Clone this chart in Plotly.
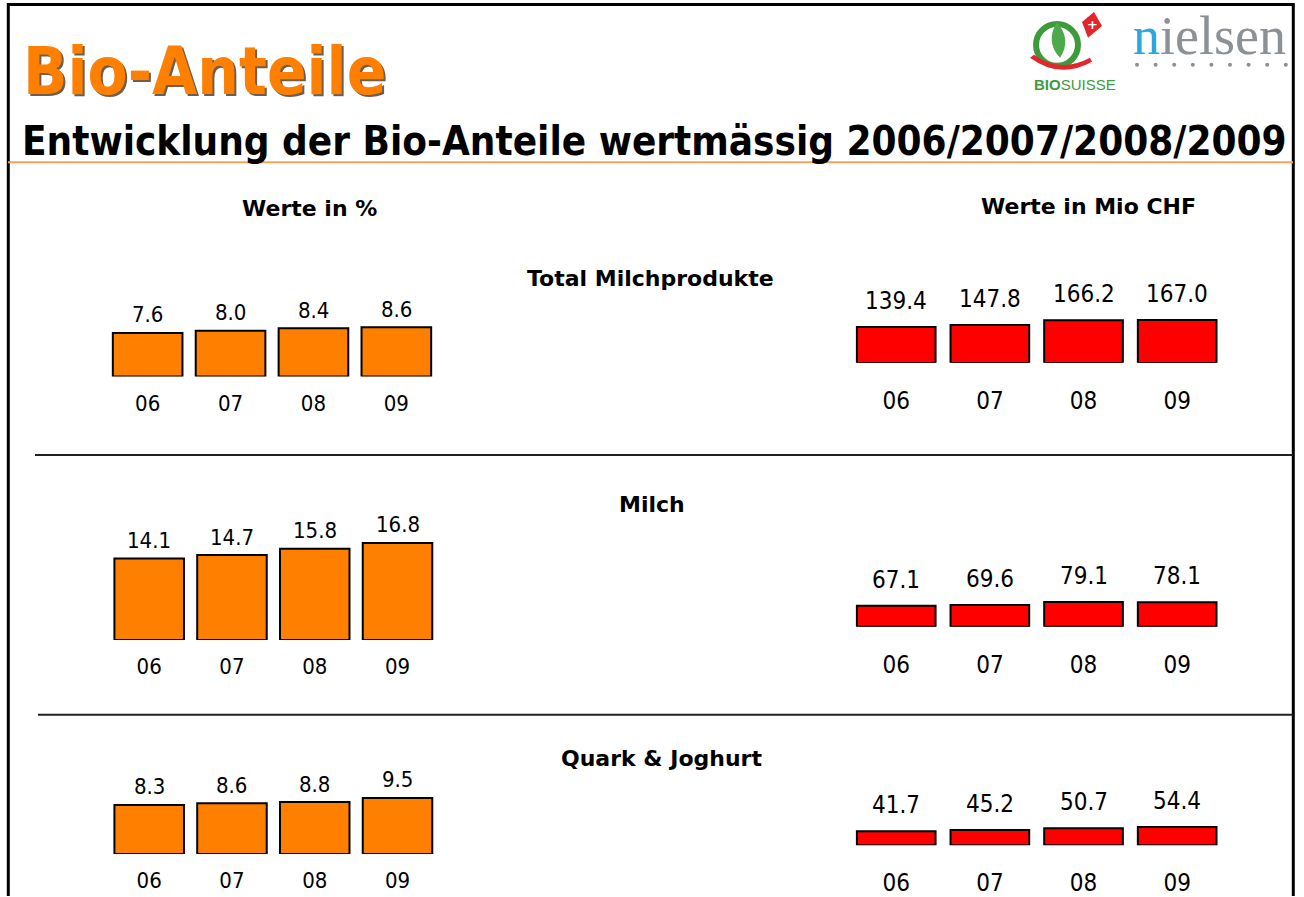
import plotly.graph_objects as go

W, H = 1304, 897

# ---------------- data ----------------
years = ["06", "07", "08", "09"]
pct_total = [7.6, 8.0, 8.4, 8.6]
pct_milch = [14.1, 14.7, 15.8, 16.8]
pct_quark = [8.3, 8.6, 8.8, 9.5]
chf_total = [139.4, 147.8, 166.2, 167.0]
chf_milch = [67.1, 69.6, 79.1, 78.1]
chf_quark = [41.7, 45.2, 50.7, 54.4]
section_titles = ["Total Milchprodukte", "Milch", "Quark & Joghurt"]
column_titles = ["Werte in %", "Werte in Mio CHF"]
main_title = "Bio-Anteile"
sub_title = "Entwicklung der Bio-Anteile wertmässig 2006/2007/2008/2009"

ORANGE = "#FF8000"
RED = "#FF0000"
NUM_FONT = "DejaVu Sans Condensed, DejaVu Sans, sans-serif"
BOLD_FONT = "DejaVu Sans, Verdana, sans-serif"


def px(x):
    return x / W


def py(y):
    return 1 - y / H


# panel layout: values, colour, x0, x1 (px), base (px), px per unit, side
panels = [
    (pct_total, ORANGE, 106.2, 437.8, 378.3, 5.77, "L"),
    (pct_milch, ORANGE, 107.8, 438.9, 642.8, 5.80, "L"),
    (pct_quark, ORANGE, 107.8, 438.9, 857.8, 5.93, "L"),
    (chf_total, RED, 849.4, 1224.0, 364.5, 0.258, "R"),
    (chf_milch, RED, 849.4, 1224.0, 629.5, 0.313, "R"),
    (chf_quark, RED, 849.4, 1224.0, 849.0, 0.336, "R"),
]

fig = go.Figure()
annotations = []
layout_axes = {}
DOM_H = 110.0

for i, (vals, col, x0, x1, base, scale, side) in enumerate(panels):
    n = i + 1
    xa = "x" if n == 1 else f"x{n}"
    ya = "y" if n == 1 else f"y{n}"
    fig.add_trace(go.Bar(
        x=years, y=vals, xaxis=xa, yaxis=ya,
        marker=dict(color=col, line=dict(color="#000000", width=2)),
        width=0.84, showlegend=False, hoverinfo="skip",
    ))
    rng = DOM_H / scale
    big = side == "R"
    layout_axes["xaxis" if n == 1 else f"xaxis{n}"] = dict(
        domain=[px(x0), px(x1)], anchor=ya, type="category",
        categoryorder="array", categoryarray=years,
        range=[-0.5, 3.5], showgrid=False, zeroline=False, showline=False,
        ticks="", tickfont=dict(family=NUM_FONT, size=24 if big else 22, color="#000"),
        ticklabelstandoff=21 if big else 11, fixedrange=True,
    )
    layout_axes["yaxis" if n == 1 else f"yaxis{n}"] = dict(
        domain=[py(base), py(base - DOM_H)], anchor=xa, range=[0, rng],
        visible=False, fixedrange=True,
    )
    for k, v in enumerate(vals):
        annotations.append(dict(
            x=k, y=v, xref=xa, yref=ya, text=f"{v:.1f}", showarrow=False,
            xanchor="center", yanchor="middle", yshift=26 if big else 18,
            font=dict(family=NUM_FONT, size=24 if big else 22, color="#000"),
        ))

# titles
TITLE_FONT = "DejaVu Sans Condensed, DejaVu Sans"
annotations.append(dict(x=px(23), y=py(74), xref="paper", yref="paper", xanchor="left",
                        yanchor="middle", text=f"<b>{main_title}</b>", showarrow=False,
                        font=dict(family=TITLE_FONT, size=65, color="rgba(60,40,20,0.75)")))
annotations.append(dict(x=px(21), y=py(72), xref="paper", yref="paper", xanchor="left",
                        yanchor="middle", text=f"<b>{main_title}</b>", showarrow=False,
                        font=dict(family=TITLE_FONT, size=65, color=ORANGE)))
annotations.append(dict(x=px(20), y=py(142), xref="paper", yref="paper", xanchor="left",
                        yanchor="middle", text=f"<b>{sub_title}</b>", showarrow=False,
                        font=dict(family=TITLE_FONT, size=40, color="#000")))

# column / section headers
for txt, (cx, cy) in zip(column_titles, [(309, 209), (1088, 207)]):
    annotations.append(dict(x=px(cx), y=py(cy), xref="paper", yref="paper", text=f"<b>{txt}</b>",
                            xanchor="center", yanchor="middle",
                            showarrow=False, font=dict(family=BOLD_FONT, size=22, color="#000")))
for txt, (cx, cy) in zip(section_titles, [(650, 280), (652, 507), (662, 762)]):
    annotations.append(dict(x=px(cx), y=py(cy), xref="paper", yref="paper", text=f"<b>{txt}</b>",
                            xanchor="center", yanchor="middle",
                            showarrow=False, font=dict(family=BOLD_FONT, size=22, color="#000")))

# logos (text parts)
annotations.append(dict(x=px(1131), y=py(36), xref="paper", yref="paper", xanchor="left",
                        yanchor="middle", showarrow=False,
                        text="<span style='color:#2AA7DF'>n</span>ielsen",
                        font=dict(family="Liberation Serif, serif", size=54, color="#8C9196")))
annotations.append(dict(x=px(1075), y=py(85), xref="paper", yref="paper", showarrow=False,
                        xanchor="center", yanchor="middle",
                        text="<b>BIO</b>SUISSE",
                        font=dict(family="Liberation Sans, Arial", size=15, color="#3E9B3C")))

shapes = []
# frame
for (xa0, ya0, xa1, ya1) in [(8, 4.5, 1293.5, 4.5), (8.3, 3, 8.3, 900), (1293.3, 3, 1293.3, 900)]:
    shapes.append(dict(type="line", xref="paper", yref="paper", x0=px(xa0), y0=py(ya0),
                       x1=px(xa1), y1=py(ya1), line=dict(color="#000", width=3)))
# orange rule under subtitle
shapes.append(dict(type="line", xref="paper", yref="paper", x0=px(8), y0=py(163), x1=px(1293),
                   y1=py(163), line=dict(color="#F8A060", width=2)))
# separators
for (sx, sy) in [(35, 457), (38, 718)]:
    shapes.append(dict(type="line", xref="paper", yref="paper", x0=px(sx), y0=py(sy), x1=px(1293),
                       y1=py(sy), line=dict(color="#202020", width=2)))
# nielsen dots
for k in range(9):
    cx = 1137 + k * 18.6
    shapes.append(dict(type="circle", xref="paper", yref="paper", x0=px(cx - 2), x1=px(cx + 2),
                       y0=py(67), y1=py(63), fillcolor="#8C9196", line=dict(width=0)))
# bio suisse emblem
shapes.append(dict(type="circle", xref="paper", yref="paper", x0=px(1036), x1=px(1078),
                   y0=py(66), y1=py(24), line=dict(color="#3E9B3C", width=6)))
shapes.append(dict(type="path", xref="paper", yref="paper",
                   path=f"M {px(1057)},{py(22)} Q {px(1072)},{py(40)} {px(1060)},{py(58)} "
                        f"Q {px(1045)},{py(42)} {px(1057)},{py(22)} Z",
                   fillcolor="#4DAA4A", line=dict(width=0)))
shapes.append(dict(type="path", xref="paper", yref="paper",
                   path=f"M {px(1030)},{py(58)} Q {px(1060)},{py(80)} {px(1092)},{py(62)} "
                        f"L {px(1090)},{py(58)} Q {px(1060)},{py(74)} {px(1034)},{py(55)} Z",
                   fillcolor="#E3262B", line=dict(width=0)))
shapes.append(dict(type="path", xref="paper", yref="paper",
                   path=f"M {px(1082)},{py(22)} L {px(1094)},{py(12)} L {px(1102)},{py(26)} "
                        f"L {px(1088)},{py(38)} Z",
                   fillcolor="#E3262B", line=dict(width=0)))
annotations.append(dict(x=px(1092), y=py(25), xref="paper", yref="paper", showarrow=False,
                        xanchor="center", yanchor="middle",
                        text="<b>+</b>", font=dict(family="DejaVu Sans", size=13, color="#FFFFFF")))

fig.update_layout(
    width=W, height=H, margin=dict(l=0, r=0, t=0, b=0),
    paper_bgcolor="#FFFFFF", plot_bgcolor="rgba(0,0,0,0)",
    showlegend=False, annotations=annotations, shapes=shapes,
    **layout_axes,
)

fig.write_html("out.html", config={"displayModeBar": False},
               post_script="document.body.style.margin='0';document.body.style.overflow='hidden';")
